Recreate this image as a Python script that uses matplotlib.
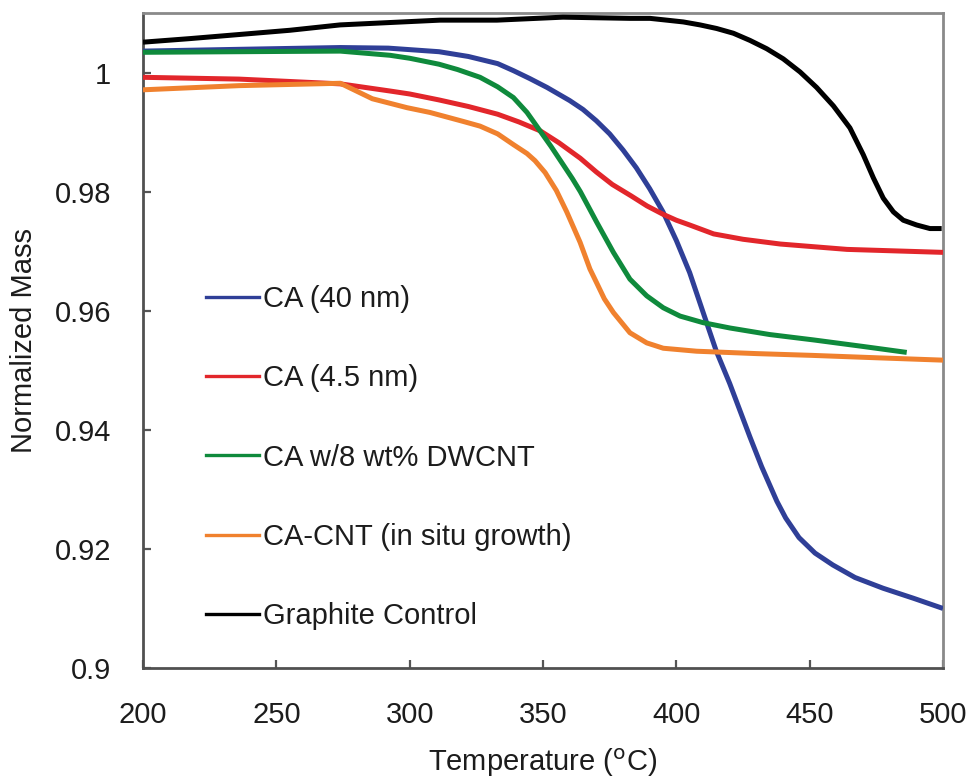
import matplotlib
matplotlib.use("Agg")
import matplotlib.pyplot as plt
from matplotlib.lines import Line2D

plt.rcParams['font.family'] = ['Liberation Sans', 'DejaVu Sans']

# ---- data ----
labels = ["CA (40 nm)", "CA (4.5 nm)", "CA w/8 wt% DWCNT",
          "CA-CNT (in situ growth)", "Graphite Control"]
colors = ["#2f3f97", "#e2262b", "#0f8a3c", "#f0812e", "#000000"]

t_blue = [200, 236, 274, 292, 311, 322, 333, 339, 345, 351.5, 360, 365, 370,
          375, 380, 385, 390, 395, 400, 405, 411.5, 415, 420, 427.6, 432,
          437.7, 441, 446, 452, 458.7, 467, 477.5, 489, 500]
m_blue = [1.0036, 1.0039, 1.0042, 1.0041, 1.0035, 1.0027, 1.0015, 1.0003,
          0.9990, 0.9975, 0.9953, 0.9938, 0.9919, 0.9897, 0.9870, 0.9840,
          0.9805, 0.9766, 0.9718, 0.9664, 0.9578, 0.9532, 0.9478, 0.9388,
          0.9338, 0.9280, 0.9252, 0.9219, 0.9193, 0.9173, 0.9152, 0.9134,
          0.9117, 0.9100]

t_red = [200, 236, 274, 292.6, 300, 311, 322, 333, 341, 349, 356, 364, 370,
         376, 383, 389, 395, 400, 405, 414, 425, 439, 464, 500]
m_red = [0.9992, 0.9989, 0.9981, 0.9969, 0.9964, 0.9954, 0.9943, 0.9930,
         0.9917, 0.9902, 0.9882, 0.9856, 0.9833, 0.9812, 0.9793, 0.9776,
         0.9762, 0.9752, 0.9744, 0.9729, 0.9720, 0.9712, 0.9703, 0.9698]

t_green = [200, 236, 274, 292.6, 300, 311, 318, 326.4, 333, 338.9, 344, 348.9,
           353, 357.6, 361, 364, 367, 370.1, 376.4, 382.6, 388.9, 395.1,
           401.4, 410, 420.1, 435, 451.4, 470, 486.4]
m_green = [1.0034, 1.0035, 1.0036, 1.0029, 1.0024, 1.0014, 1.0005, 0.9992,
           0.9976, 0.9958, 0.9933, 0.9902, 0.9876, 0.9845, 0.9822, 0.9800,
           0.9775, 0.9749, 0.9698, 0.9653, 0.9625, 0.9605, 0.9591, 0.9580,
           0.9571, 0.9560, 0.9551, 0.9540, 0.9530]

t_orange = [200, 236, 274, 280, 286, 299, 307.6, 320, 326.4, 333, 338.9, 344,
            347, 350.8, 355, 358.9, 363.9, 367.6, 370.1, 373, 376.4, 382.6,
            388.9, 395.1, 407.6, 430, 451, 475, 500]
m_orange = [0.9971, 0.9978, 0.9982, 0.9969, 0.9956, 0.9941, 0.9933, 0.9918,
            0.9910, 0.9897, 0.9879, 0.9864, 0.9852, 0.9832, 0.9802, 0.9766,
            0.9715, 0.9670, 0.9647, 0.9620, 0.9597, 0.9563, 0.9546, 0.9537,
            0.9532, 0.9528, 0.9525, 0.9521, 0.9517]

t_black = [200, 217.6, 236.4, 255.1, 273.9, 292.6, 311.4, 332.7, 357.5, 382.6,
           390.1, 396.4, 402.6, 408.9, 415.1, 421.4, 427.6, 433.9, 440.1,
           446.4, 452.6, 458.9, 465.1, 470.1, 473.9, 477.6, 481.4, 485.1,
           490.1, 495.1, 499.5]
m_black = [1.0051, 1.0057, 1.0064, 1.0071, 1.0080, 1.0084, 1.0088, 1.0088,
           1.0093, 1.0091, 1.0091, 1.0088, 1.0085, 1.0080, 1.0074, 1.0066,
           1.0054, 1.0040, 1.0023, 1.0001, 0.9975, 0.9944, 0.9907, 0.9862,
           0.9823, 0.9789, 0.9766, 0.9752, 0.9744, 0.9738, 0.9738]

series = [(t_blue, m_blue), (t_red, m_red), (t_green, m_green),
          (t_orange, m_orange), (t_black, m_black)]

x_ticks = [200, 250, 300, 350, 400, 450, 500]
y_ticks = [0.9, 0.92, 0.94, 0.96, 0.98, 1.0]
y_ticklabels = ["0.9", "0.92", "0.94", "0.96", "0.98", "1"]

# ---- figure ----
W, H = 968, 782
fig = plt.figure(figsize=(W / 100, H / 100), dpi=100)
ax = fig.add_axes([143 / W, 1 - 668 / H, 800 / W, 655 / H])

for (t, m), c in zip(series, colors):
    ax.plot(t, m, color=c, lw=3.6, solid_capstyle='butt',
            solid_joinstyle='round', zorder=3)

ax.set_xlim(200, 500)
ax.set_ylim(0.9, 1.01)
ax.set_xticks(x_ticks)
ax.set_yticks(y_ticks)
ax.set_yticklabels(y_ticklabels)

txt = "#1c1c1c"
fs = 21
ax.tick_params(axis='both', direction='in', length=6, width=1.6,
               color="#555555", labelsize=fs, labelcolor=txt)
ax.tick_params(axis='y', pad=23)
ax.tick_params(axis='x', pad=24)

for side in ['left', 'bottom']:
    ax.spines[side].set_color("#505050")
    ax.spines[side].set_linewidth(2.0)
for side in ['top', 'right']:
    ax.spines[side].set_color("#8a8a8a")
    ax.spines[side].set_linewidth(2.0)

ax.set_xlabel(r"Temperature ($^{\mathrm{o}}$C)", fontsize=fs, color=txt,
              va='center')
ax.xaxis.set_label_coords(0.5, (668 - 763) / 655)
ax.set_ylabel("Normalized Mass", fontsize=fs, color=txt, va='center')
ax.yaxis.set_label_coords((24 - 143) / 800, 0.5)

handles = [Line2D([], [], color=c, lw=2.4) for c in colors]
leg = ax.legend(handles, labels, loc='upper left',
                bbox_to_anchor=((206 - 143) / 800, (668 - 285) / 655),
                frameon=False, fontsize=fs, handlelength=1.8,
                handletextpad=0.14, labelspacing=1.76, borderpad=0,
                borderaxespad=0)
for t in leg.get_texts():
    t.set_color(txt)

fig.savefig("out.png", dpi=100)
